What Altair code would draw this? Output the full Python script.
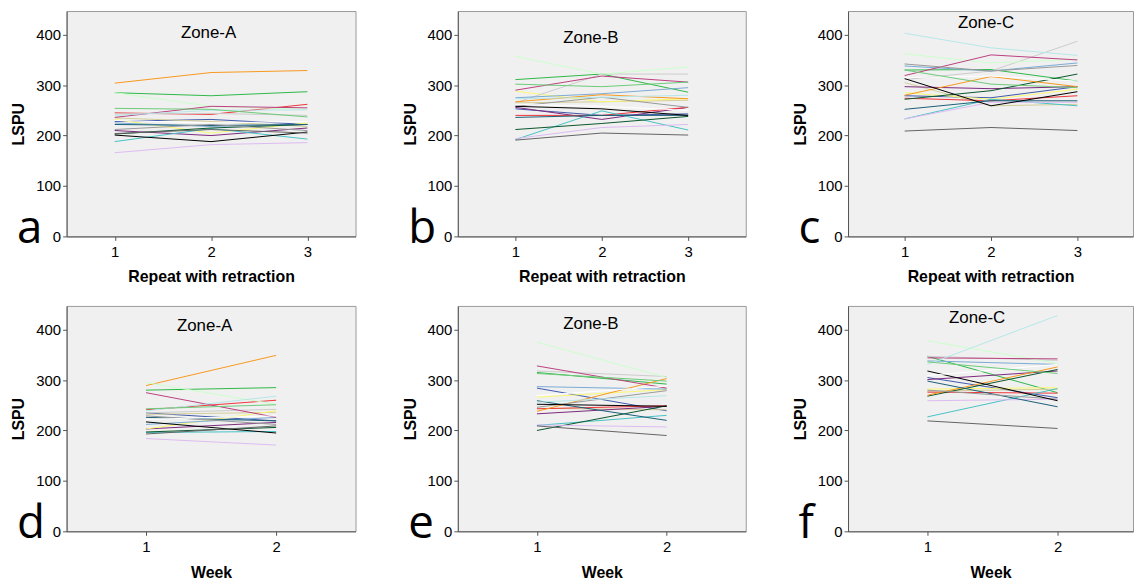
import altair as alt
import pandas as pd

subjects = [f"S{i:02d}" for i in range(1, 22)]
subject_colors = ["#3E58AC", "#2EB848", "#D3CE97", "#7C287D", "#FBF873", "#EF3338",
                  "#48C2C5", "#CCCCCC", "#7AAAD5", "#0A562C", "#F8981D", "#DDBAF1",
                  "#1A5F76", "#CCFFCC", "#BB3F7F", "#999999", "#000000", "#B6E7E8",
                  "#FFFFFF", "#646464", "#6CCB7A"]

repeat_ticks = [1, 2, 3]
week_ticks = [1, 2]
y_ticks = [0, 100, 200, 300, 400]

repeat_zone_a = [[228, 232, 222], [285, 279, 287], [235, 228, 218], [210, 200, 215],
                 [232, 205, 225], [245, 242, 262], [188, 214, 193], [243, 244, 240],
                 [225, 218, 222], [203, 215, 222], [304, 325, 329], [166, 182, 186],
                 [222, 220, 222], [285, 258, 252], [236, 258, 255], [212, 222, 210],
                 [201, 188, 207], [240, 250, 251], [230, 225, 228], [204, 212, 205],
                 [254, 252, 237]]
repeat_zone_b = [[253, 240, 243], [311, 322, 286], [265, 267, 270], [256, 232, 256],
                 [288, 267, 273], [240, 240, 256], [192, 249, 211], [265, 322, 322],
                 [275, 283, 295], [212, 224, 238], [267, 281, 273], [194, 216, 222],
                 [236, 240, 240], [357, 322, 336], [290, 318, 306], [258, 276, 256],
                 [258, 253, 240], [273, 276, 280], [262, 258, 250], [191, 205, 201],
                 [302, 297, 306]]
repeat_zone_c = [[279, 275, 297], [330, 331, 308], [305, 259, 262], [297, 293, 297],
                 [285, 272, 292], [274, 269, 279], [233, 272, 259], [311, 328, 387],
                 [338, 328, 344], [272, 289, 322], [280, 317, 297], [233, 266, 266],
                 [252, 269, 269], [362, 344, 351], [319, 360, 350], [342, 328, 339],
                 [313, 259, 287], [403, 374, 359], [315, 318, 308], [209, 216, 210],
                 [330, 302, 295]]
week_zone_a = [[235, 219], [280, 285], [232, 236], [203, 216], [203, 239], [241, 260],
               [196, 198], [235, 242], [212, 226], [197, 206], [289, 349], [184, 171],
               [226, 219], [295, 252], [275, 226], [229, 212], [217, 195], [239, 268],
               [222, 229], [193, 209], [243, 251]]
week_zone_b = [[284, 239], [315, 292], [244, 241], [233, 248], [266, 281], [243, 249],
               [210, 230], [318, 307], [287, 282], [200, 249], [238, 303], [211, 207],
               [259, 220], [375, 305], [328, 284], [246, 279], [252, 248], [256, 269],
               [269, 288], [209, 190], [313, 298]]
week_zone_c = [[305, 265], [347, 275], [278, 282], [301, 318], [282, 285], [276, 274],
               [227, 283], [347, 339], [338, 331], [268, 321], [270, 326], [259, 262],
               [298, 247], [378, 333], [344, 342], [280, 262], [318, 259], [331, 428],
               [309, 331], [219, 204], [336, 313]]


def long_table(values, ticks):
    rows = []
    for s, series in zip(subjects, values):
        for t, v in zip(ticks, series):
            rows.append({"subject": s, "x": t, "value": v})
    return pd.DataFrame(rows)


def panel(values, ticks, domain, width, height, zone, title_x, title_y, letter, xtitle, tpad):
    df = long_table(values, ticks)
    lines = alt.Chart(df).mark_line(strokeWidth=1).encode(
        x=alt.X("x:Q", scale=alt.Scale(domain=domain, nice=False, zero=False),
                axis=alt.Axis(values=ticks, format="d", title=xtitle, titlePadding=tpad,
                              labelPadding=4)),
        y=alt.Y("value:Q", scale=alt.Scale(domain=[0, 447], nice=False),
                axis=alt.Axis(values=y_ticks, title="LSPU", titlePadding=9)),
        color=alt.Color("subject:N", scale=alt.Scale(domain=subjects, range=subject_colors),
                        legend=None),
        order=alt.Order("subject:N"),
    )
    ztxt = alt.Chart(pd.DataFrame({"t": [zone]})).mark_text(
        font="Liberation Sans", fontSize=17, color="black", baseline="middle", align="center"
    ).encode(text="t:N", x=alt.value(title_x), y=alt.value(title_y))
    ltxt = alt.Chart(pd.DataFrame({"t": [letter]})).mark_text(
        font="Open Sans", fontSize=46, color="black", baseline="alphabetic", align="left"
    ).encode(text="t:N", x=alt.value(-50), y=alt.value(height + 7))
    return alt.layer(lines, ztxt, ltxt).properties(width=width, height=height)


panels = [
    panel(repeat_zone_a, repeat_ticks, [0.5, 3.5], 291, 227, "Zone-A", 143, 22, "a", "Repeat with retraction", 9),
    panel(repeat_zone_b, repeat_ticks, [0.333, 3.667], 290, 227, "Zone-B", 134, 27, "b", "Repeat with retraction", 9),
    panel(repeat_zone_c, repeat_ticks, [0.345, 3.644], 287, 227, "Zone-C", 139, 12, "c", "Repeat with retraction", 9),
    panel(week_zone_a, week_ticks, [0.39, 2.61], 291, 227, "Zone-A", 139, 20, "d", "Week", 11),
    panel(week_zone_b, week_ticks, [0.39, 2.61], 290, 227, "Zone-B", 134, 18, "e", "Week", 11),
    panel(week_zone_c, week_ticks, [0.39, 2.58], 287, 227, "Zone-C", 130, 12, "f", "Week", 11),
]

chart = alt.concat(
    *panels, columns=3, spacing={"row": 70, "column": 103}, bounds="flush"
).properties(
    padding={"left": 2, "top": 0, "right": 0, "bottom": 0}
).configure_view(
    fill="#F0F0F0", stroke="#9A9A9A"
).configure_axis(
    labelFont="Liberation Sans", labelFontSize=15, labelColor="black",
    titleFont="Liberation Sans", titleFontSize=16, titleFontWeight="bold", titleColor="black",
    domainColor="#555555", tickColor="#555555", tickSize=4, labelPadding=2, grid=False,
)

chart.save("out.html", embed_options={"renderer": "svg", "actions": False})
